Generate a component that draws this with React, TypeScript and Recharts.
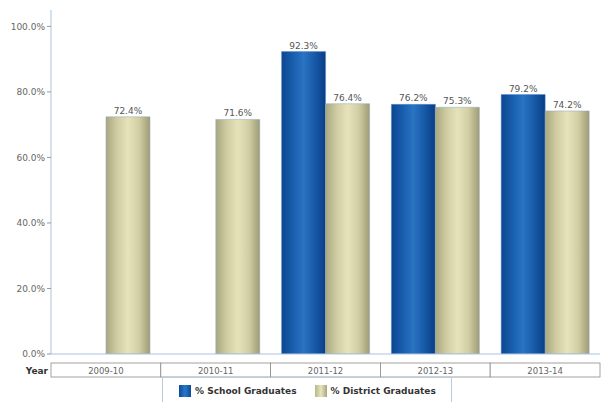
import React from 'react';
import { BarChart, Bar, XAxis, YAxis, LabelList, Legend } from 'recharts';

const years = ['2009-10', '2010-11', '2011-12', '2012-13', '2013-14'];
const schoolGrads: (number | null)[] = [null, null, 92.3, 76.2, 79.2];
const districtGrads: number[] = [72.4, 71.6, 76.4, 75.3, 74.2];
const yTicks = [0, 20, 40, 60, 80, 100];

const data = years.map((year, i) => ({
  year,
  school: schoolGrads[i],
  district: districtGrads[i],
}));

const FONT = '"DejaVu Sans", Verdana, sans-serif';

const XTick = (props: any) => {
  const { x, y, payload, index } = props;
  const bw = 109.8;
  const left = x - bw / 2;
  return (
    <g>
      <rect x={left} y={y + 1} width={bw} height={14} fill="#fff" stroke="#8a8a8a" strokeWidth={0.8} />
      <text x={x} y={y + 11.5} textAnchor="middle" fontSize={8.5} fill="#666" fontFamily={FONT}>
        {payload.value}
      </text>
      {index === 0 && (
        <text x={left - 3} y={y + 12} textAnchor="end" fontSize={9} fontWeight="bold" fill="#333" fontFamily={FONT}>
          Year
        </text>
      )}
    </g>
  );
};

const LegendContent = () => (
  <div
    style={{
      width: 290,
      height: 28,
      border: '1px solid #b8cde0',
      boxSizing: 'border-box',
      display: 'flex',
      alignItems: 'center',
      fontFamily: FONT,
      fontSize: 9,
      fontWeight: 'bold',
      color: '#333',
      paddingLeft: 16,
    }}
  >
    <span style={{ display: 'inline-block', width: 12, height: 12, background: 'linear-gradient(90deg,#0d4a98,#2a78c8,#0d4a98)', marginRight: 4 }} />
    <span style={{ marginRight: 18 }}>% School Graduates</span>
    <span style={{ display: 'inline-block', width: 12, height: 12, background: 'linear-gradient(90deg,#b8b68c,#e8e4bc,#a8a67e)', marginRight: 4 }} />
    <span>% District Graduates</span>
  </div>
);

export default function App() {
  return (
    <div style={{ position: 'absolute', left: 0, top: 0 }}>
      <BarChart
        width={603}
        height={402}
        data={data}
        margin={{ top: 10, right: 3, left: 0, bottom: 0 }}
        barGap={0}
        barCategoryGap="10%"
      >
        <defs>
          <linearGradient id="blueGrad" x1="0" y1="0" x2="1" y2="0">
            <stop offset="0%" stopColor="#0c4690" />
            <stop offset="30%" stopColor="#1b62b2" />
            <stop offset="50%" stopColor="#2a74c2" />
            <stop offset="75%" stopColor="#175aa8" />
            <stop offset="100%" stopColor="#0a3d84" />
          </linearGradient>
          <linearGradient id="tanGrad" x1="0" y1="0" x2="1" y2="0">
            <stop offset="0%" stopColor="#a9a77f" />
            <stop offset="25%" stopColor="#cfcca2" />
            <stop offset="50%" stopColor="#e6e2ba" />
            <stop offset="75%" stopColor="#d2cea4" />
            <stop offset="100%" stopColor="#9e9c76" />
          </linearGradient>
        </defs>
        <XAxis
          dataKey="year"
          height={20}
          axisLine={{ stroke: '#a9c3de' }}
          tickLine={false}
          tick={<XTick />}
          interval={0}
        />
        <YAxis
          width={51}
          domain={[0, 105]}
          ticks={yTicks}
          allowDataOverflow
          axisLine={{ stroke: '#a9c3de' }}
          tickLine={{ stroke: '#999' }}
          tickSize={4}
          tick={{ fontSize: 9, fill: '#666', fontFamily: FONT }}
          tickFormatter={(v: number) => v.toFixed(1) + '%'}
        />
        <Legend
          content={<LegendContent />}
          wrapperStyle={{ position: 'absolute', left: 162, top: 377, width: 290, height: 28 }}
        />
        <Bar dataKey="school" name="% School Graduates" fill="url(#blueGrad)" stroke="#5a8fcf" strokeWidth={0.5} isAnimationActive={false}>
          <LabelList dataKey="school" position="top" offset={3} fontSize={9} fill="#555" fontFamily={FONT}
            formatter={(v: any) => (v == null ? '' : Number(v).toFixed(1) + '%')} />
        </Bar>
        <Bar dataKey="district" name="% District Graduates" fill="url(#tanGrad)" stroke="#8fa8c4" strokeWidth={0.5} isAnimationActive={false}>
          <LabelList dataKey="district" position="top" offset={3} fontSize={9} fill="#555" fontFamily={FONT}
            formatter={(v: any) => (v == null ? '' : Number(v).toFixed(1) + '%')} />
        </Bar>
      </BarChart>
    </div>
  );
}
